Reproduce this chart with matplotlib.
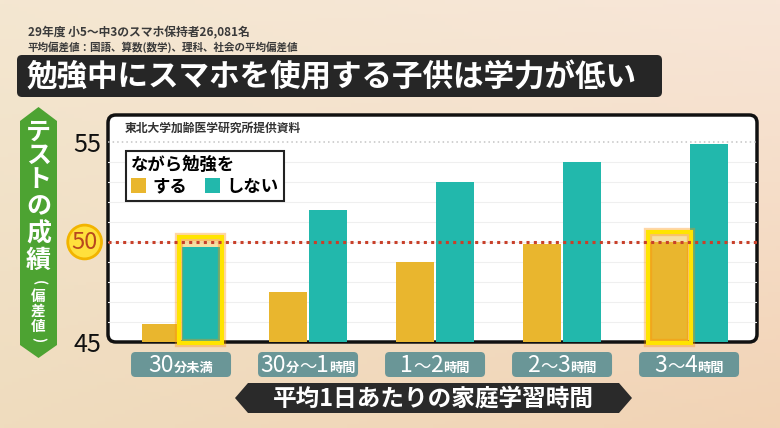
import re
import numpy as np
import matplotlib
matplotlib.use('Agg')
import matplotlib.pyplot as plt
import matplotlib.transforms as mtransforms
from matplotlib.patches import FancyBboxPatch, Polygon, Rectangle, Patch
from matplotlib.offsetbox import TextArea, HPacker, AnnotationBbox

plt.rcParams['font.family'] = ['Noto Sans CJK JP', 'DejaVu Sans']

# data
categories = ['30分未満', '30分～1時間', '1～2時間', '2～3時間', '3～4時間']
suru = [45.9, 47.5, 49.0, 49.9, 50.0]        # ながら勉強を する
shinai = [49.75, 51.6, 53.0, 54.0, 54.9]     # ながら勉強を しない
y_ticks = [45, 55]
ref_value = 50
highlight = [(0, 'shinai'), (4, 'suru')]

c_suru = '#E9B62E'
c_shinai = '#22B8AC'

W, H = 780, 428
fig = plt.figure(figsize=(W / 100, H / 100), dpi=100)

# background in pixel coords
bg = fig.add_axes([0, 0, 1, 1], zorder=-1)
bg.set_xlim(0, W)
bg.set_ylim(H, 0)
bg.axis('off')

def hex2rgb(h):
    h = h.lstrip('#')
    return np.array([int(h[i:i + 2], 16) / 255 for i in (0, 2, 4)])

tl, tr, bl, br = [hex2rgb(c) for c in ('#F4E7D1', '#F8E6D8', '#EFDCBE', '#F2D3B5')]
gx = np.linspace(0, 1, 200)[None, :, None]
gy = np.linspace(0, 1, 120)[:, None, None]
grad = (tl * (1 - gx) + tr * gx) * (1 - gy) + (bl * (1 - gx) + br * gx) * gy
bg.imshow(grad, extent=[0, W, H, 0], aspect='auto', zorder=0)

# notes at the top
bg.text(28, 33, '29年度 小5～中3のスマホ保持者26,081名', fontsize=8.5,
        weight='bold', color='#3A3A3A', va='center')
bg.text(28, 47, '平均偏差値：国語、算数(数学)、理科、社会の平均偏差値', fontsize=7.6,
        weight='bold', color='#3A3A3A', va='center')

# headline bar
bg.add_patch(FancyBboxPatch((17, 55), 645, 42, boxstyle='round,pad=0,rounding_size=5',
                            fc='#262626', ec='none', zorder=1))
bg.text(27, 77, '勉強中にスマホを使用する子供は学力が低い', fontsize=22,
        weight='bold', color='white', va='center', zorder=2)

# green y-axis banner
bg.add_patch(Polygon([(20, 121), (38.5, 107), (57, 121), (57, 345), (38.5, 358), (20, 345)],
                     closed=True, fc='#4DA332', ec='none', zorder=1))
for ch, yy in zip('テストの成績', [133, 156, 180, 207, 234, 261]):
    bg.text(38.5, yy, ch, fontsize=18, weight='bold', color='white',
            ha='center', va='center', zorder=2)
bg.text(38.5, 283, '(', fontsize=10, weight='bold', color='white', rotation=-90,
        ha='center', va='center', zorder=2)
for ch, yy in zip('偏差値', [296, 311, 326]):
    bg.text(38.5, yy, ch, fontsize=10.5, weight='bold', color='white',
            ha='center', va='center', zorder=2)
bg.text(38.5, 340, ')', fontsize=10, weight='bold', color='white', rotation=-90,
        ha='center', va='center', zorder=2)

# x-axis banner
bg.add_patch(Polygon([(235, 398), (248, 383), (619, 383), (632, 398), (619, 413), (248, 413)],
                     closed=True, fc='#2A2A2A', ec='none', zorder=1))
bg.text(433, 399, '平均1日あたりの家庭学習時間', fontsize=17, weight='bold',
        color='white', ha='center', va='center', zorder=2)

# main chart
ax_l, ax_r, ax_t, ax_b = 108, 757, 115, 342
ax = fig.add_axes([ax_l / W, (H - ax_b) / H, (ax_r - ax_l) / W, (ax_b - ax_t) / H])
ax.set_xlim(-0.575, 4.535)
ax.set_ylim(45, 56.35)
ax.patch.set_visible(False)
for s in ax.spines.values():
    s.set_visible(False)

ax_w_px = ax_r - ax_l
ax_h_px = ax_b - ax_t
ax.add_patch(FancyBboxPatch((0, 0), 1, 1, boxstyle='round,pad=0,rounding_size=0.012',
                            mutation_aspect=ax_w_px / ax_h_px, transform=ax.transAxes,
                            fc='white', ec='#111111', lw=2.5, zorder=0, clip_on=False))

for v in range(46, 55):
    ax.axhline(v, color='#EFEFEF', lw=0.8, zorder=0.5)
ax.axhline(55, color='#C4C4C4', lw=1.1, ls=(0, (1, 2)), zorder=0.6)

x = np.arange(len(categories))
bw = 0.30
off = 0.155
bars = {
    'suru': ax.bar(x - off, np.array(suru) - 45, bw, bottom=45, color=c_suru, zorder=2),
    'shinai': ax.bar(x + off, np.array(shinai) - 45, bw, bottom=45, color=c_shinai, zorder=2),
}

ax.axhline(ref_value, color='#C8402A', lw=2.2, ls=(0, (1, 1.4)), zorder=5)

# highlighted bars
for i, key in highlight:
    r = bars[key][i]
    x0 = r.get_x() - 0.02
    w = r.get_width() + 0.04
    top = r.get_y() + r.get_height() + 0.5
    y0 = 44.95
    ax.add_patch(Rectangle((x0, y0), w, top - y0, fc=(0.93, 0.72, 0.2, 0.45), ec='none',
                           zorder=1.5, clip_on=False))
    ax.add_patch(Rectangle((x0, y0), w, top - y0, fill=False, ec='#FF8C00', lw=6,
                           alpha=0.35, zorder=3.8, clip_on=False))
    ax.add_patch(Rectangle((x0, y0), w, top - y0, fill=False, ec='#FFE400', lw=3,
                           zorder=4, clip_on=False))

# y ticks
ax.set_xticks([])
ax.set_yticks(y_ticks)
ax.set_yticklabels([str(v) for v in y_ticks])
ax.tick_params(axis='y', length=0, pad=5, labelsize=18, labelcolor='#111111')
blend = mtransforms.blended_transform_factory(ax.transAxes, ax.transData)
ax.text(-0.036, ref_value, str(ref_value), transform=blend, ha='center', va='center',
        fontsize=17, color='#B8481E', clip_on=False, zorder=6,
        bbox=dict(boxstyle='circle,pad=0.16', fc='#FFE03C', ec='#F2B400', lw=2))

# source note
ax.text(0.026, (ax_b - 128) / ax_h_px, '東北大学加齢医学研究所提供資料', transform=ax.transAxes,
        fontsize=8.5, weight='bold', color='#333333', va='center', zorder=3)

# legend
leg = ax.legend([Patch(fc=c_suru), Patch(fc=c_shinai)], ['する', 'しない'],
                title='ながら勉強を', ncol=2, loc='upper left',
                bbox_to_anchor=(0.027, (ax_b - 151) / ax_h_px),
                prop={'size': 12.5, 'weight': 'bold'},
                title_fontproperties={'size': 12.5, 'weight': 'bold'},
                alignment='left', fancybox=False, framealpha=1, edgecolor='#222222',
                handlelength=0.9, handleheight=0.9, handletextpad=0.35,
                columnspacing=1.0, borderpad=0.3, labelspacing=0.2, borderaxespad=0)
leg.get_frame().set_linewidth(1.5)
leg.set_zorder(7)

# category label boxes
xa = mtransforms.blended_transform_factory(ax.transData, ax.transAxes)
bw_data = 100 / 127
for i, cat in enumerate(categories):
    ax.add_patch(FancyBboxPatch((i - bw_data / 2, (ax_b - 377) / ax_h_px), bw_data, 25 / ax_h_px,
                                boxstyle='round,pad=0,rounding_size=0.035',
                                mutation_aspect=127 / ax_h_px, transform=xa,
                                fc='#6A9697', ec='none', clip_on=False, zorder=3))
    parts = re.findall(r'[0-9]+|～|[^0-9～]+', cat)
    areas = []
    for p in parts:
        if p.isdigit():
            props = dict(fontsize=16.5, weight='normal')
        elif p == '～':
            props = dict(fontsize=12.5, weight='normal')
        else:
            props = dict(fontsize=9.5, weight='bold')
        areas.append(TextArea(p, textprops=dict(color='white', **props)))
    pack = HPacker(children=areas, align='baseline', pad=0, sep=0)
    ab = AnnotationBbox(pack, (i, (ax_b - 365) / ax_h_px), xycoords=xa, frameon=False,
                        box_alignment=(0.5, 0.5), annotation_clip=False, zorder=4)
    ax.add_artist(ab)

fig.savefig('out.png', dpi=100)
